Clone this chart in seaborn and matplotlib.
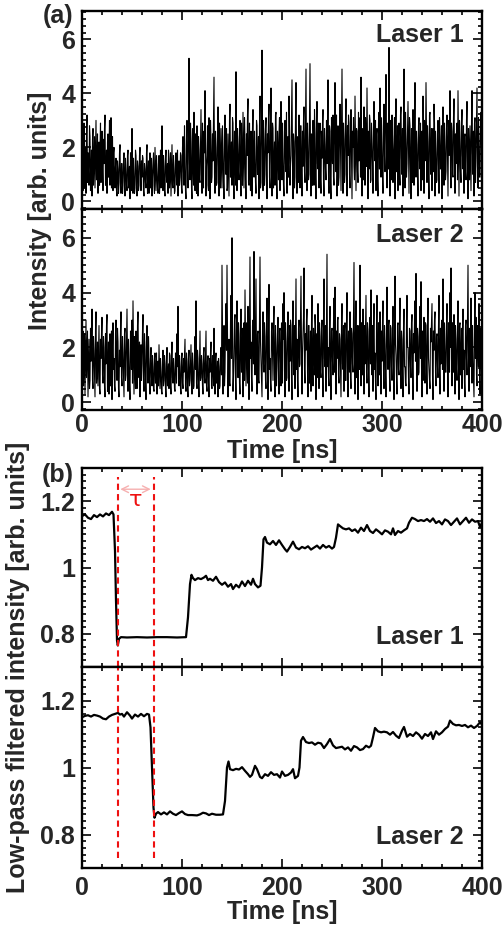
import numpy as np
import pandas as pd
import matplotlib
matplotlib.use("Agg")
import matplotlib.pyplot as plt
from matplotlib.ticker import MultipleLocator, FuncFormatter
import seaborn as sns

sns.set_theme(style="ticks")
plt.rcParams['font.family'] = ['Liberation Sans', 'DejaVu Sans']
plt.rcParams['font.weight'] = 'bold'
plt.rcParams['axes.labelweight'] = 'bold'

# ---- (a) raw intensity: samples at whole ns (0..400) ----
laser1_raw = [
    1.6, 0.4, 2.9, 1.1, 0.3, 3.2, 1.8, 0.6, 2.4, 0.9, 0.2, 2.7, 1.5, 0.5, 3.0, 1.2, 0.3, 2.2, 1.9, 0.7,
    2.6, 0.4, 1.4, 3.2, 0.8, 0.3, 2.5, 1.7, 0.6, 3.1, 1.0, 0.4, 2.0, 0.5, 1.6, 0.2, 1.2, 0.7, 2.1, 0.3,
    1.4, 0.6, 1.8, 0.2, 1.1, 0.4, 1.9, 0.8, 0.1, 1.5, 2.7, 0.3, 1.0, 0.5, 1.7, 0.2, 1.3, 0.6, 2.0, 0.4,
    0.9, 1.6, 0.2, 1.2, 0.5, 2.1, 0.7, 0.3, 1.8, 1.0, 0.2, 1.4, 0.6, 2.0, 0.4, 1.1, 0.3, 1.7, 0.8, 0.5,
    2.8, 0.4, 1.3, 0.2, 1.9, 0.7, 0.3, 1.6, 1.0, 0.2, 2.1, 0.5, 1.2, 0.4, 1.8, 0.6, 0.2, 1.5, 0.9, 1.7,
    0.3, 2.4, 0.6, 1.3, 0.1, 3.0, 0.5, 5.3, 0.8, 2.2, 0.1, 1.6, 3.3, 0.4, 1.1, 2.8, 0.2, 1.9, 0.7, 3.4,
    0.3, 1.4, 2.6, 4.1, 0.2, 1.7, 0.6, 3.1, 0.1, 2.3, 0.9, 1.5, 4.6, 0.3, 2.0, 0.7, 3.5, 0.2, 1.2, 2.7,
    0.5, 1.8, 0.1, 3.2, 1.0, 0.4, 2.5, 0.2, 3.6, 1.3, 0.6, 2.9, 0.1, 1.6, 4.8, 0.4, 2.1, 0.8, 3.0, 0.2,
    1.4, 3.3, 0.5, 2.2, 0.1, 1.7, 3.8, 0.6, 1.1, 2.6, 0.2, 3.4, 0.9, 1.5, 0.3, 2.8, 1.2, 0.1, 3.9, 0.7,
    5.6, 0.4, 2.3, 1.0, 3.1, 0.1, 1.8, 3.6, 0.5, 4.2, 0.2, 2.7, 1.3, 0.6, 3.3, 0.1, 1.9, 2.5, 0.4, 3.7,
    0.8, 1.5, 0.2, 3.0, 1.1, 0.3, 2.4, 3.9, 0.6, 1.7, 4.5, 0.1, 2.2, 0.9, 4.4, 0.3, 1.6, 3.2, 0.5, 2.8,
    0.2, 1.3, 3.5, 0.7, 4.9, 0.4, 2.0, 1.0, 5.1, 0.2, 1.8, 3.0, 0.6, 2.5, 0.1, 3.7, 1.2, 0.5, 2.9, 0.3,
    1.6, 3.4, 0.2, 2.1, 0.8, 1.4, 4.5, 0.3, 2.6, 0.1, 1.9, 3.2, 0.6, 4.4, 1.1, 0.2, 2.8, 0.9, 3.6, 0.4,
    4.9, 0.3, 2.3, 1.0, 3.8, 0.2, 1.7, 2.9, 0.5, 3.4, 0.1, 2.0, 1.3, 3.9, 0.4, 2.6, 0.7, 1.5, 3.1, 4.6,
    0.2, 1.8, 3.5, 0.6, 2.4, 4.2, 0.1, 1.2, 3.0, 0.8, 2.1, 0.3, 3.7, 1.5, 0.4, 2.7, 0.2, 3.3, 4.2, 0.9,
    2.0, 0.3, 3.6, 1.1, 4.7, 0.5, 2.5, 5.7, 0.2, 1.6, 3.2, 0.7, 2.2, 0.1, 3.8, 1.3, 0.4, 2.9, 0.6, 3.5,
    1.0, 0.2, 4.9, 0.5, 2.3, 1.4, 3.7, 0.3, 2.8, 0.1, 1.9, 3.4, 0.6, 4.4, 0.9, 2.1, 0.2, 3.1, 1.2, 0.4,
    2.6, 3.9, 0.3, 1.5, 4.4, 0.7, 2.2, 0.1, 3.3, 1.0, 0.4, 2.7, 3.6, 0.2, 1.8, 0.8, 3.0, 0.3, 2.4, 1.3,
    0.1, 3.5, 0.6, 2.0, 1.1, 3.2, 0.2, 1.7, 4.1, 0.5, 2.6, 0.9, 3.8, 0.3, 1.4, 2.9, 4.1, 0.2, 2.2, 0.7,
    3.4, 1.2, 0.3, 2.5, 0.8, 3.7, 0.1, 1.9, 2.8, 0.4, 4.1, 1.0, 0.2, 3.1, 1.6, 4.2, 0.5, 2.3, 0.9, 3.3,
    1.4,
]
# samples at half ns (0.5..399.5)
laser1_half = [
    2.2, 1.0, 0.5, 2.0, 2.5, 0.7, 1.1, 2.8, 0.4, 1.9, 2.3, 0.6, 2.4, 1.8, 0.8, 2.5, 1.4, 0.6, 2.9, 1.3,
    1.1, 2.3, 2.7, 0.6, 1.9, 2.2, 0.9, 3.0, 1.5, 0.5, 2.4, 1.8, 0.9, 1.3, 0.4, 1.5, 0.3, 1.8, 0.6, 1.4,
    0.3, 1.5, 0.7, 1.6, 0.6, 1.7, 0.5, 1.3, 1.8, 0.4, 1.1, 1.6, 0.3, 1.9, 0.6, 1.5, 0.4, 1.7, 1.0, 1.5,
    1.7, 0.4, 1.4, 0.7, 1.8, 0.3, 1.5, 1.2, 0.5, 1.6, 0.9, 1.8, 0.3, 1.2, 1.7, 0.5, 1.4, 0.3, 1.9, 1.3,
    1.0, 1.7, 0.4, 1.6, 0.9, 1.4, 1.9, 0.5, 1.8, 1.1, 0.6, 1.7, 0.3, 1.5, 0.9, 1.9, 1.3, 0.6, 1.8, 0.5,
    2.0, 1.1, 2.8, 0.4, 2.3, 1.2, 2.6, 1.4, 2.9, 0.5, 2.7, 0.6, 1.5, 2.5, 0.3, 1.7, 2.4, 0.8, 2.2, 1.0,
    2.9, 0.5, 1.8, 2.2, 1.3, 2.8, 0.4, 1.9, 3.0, 0.7, 2.5, 3.1, 1.0, 2.6, 0.6, 2.3, 1.4, 2.9, 0.5, 1.6,
    2.8, 0.7, 2.4, 1.5, 2.7, 0.5, 1.3, 3.0, 0.9, 2.2, 3.1, 0.8, 2.6, 0.6, 2.0, 2.7, 1.1, 2.4, 0.8, 2.9,
    0.6, 2.0, 3.1, 0.8, 2.5, 3.2, 0.7, 2.9, 0.4, 1.8, 2.7, 1.3, 2.6, 0.7, 3.0, 1.0, 2.4, 2.8, 0.5, 2.6,
    2.1, 3.0, 0.6, 2.7, 1.2, 2.5, 3.1, 0.9, 2.8, 1.5, 2.9, 0.5, 2.2, 3.2, 0.7, 2.6, 0.8, 3.1, 1.6, 1.2,
    2.9, 0.6, 2.6, 1.4, 3.3, 2.2, 0.9, 2.7, 1.3, 3.0, 1.6, 2.5, 0.5, 3.1, 1.8, 2.4, 0.7, 2.0, 2.8, 1.1,
    2.6, 3.0, 1.1, 2.8, 1.5, 2.9, 0.8, 3.2, 1.7, 2.5, 0.6, 2.2, 3.4, 0.9, 2.7, 1.4, 2.9, 2.3, 0.8, 2.6,
    2.9, 0.8, 2.7, 1.2, 3.0, 2.6, 1.0, 2.8, 0.7, 3.1, 1.4, 0.9, 2.6, 2.2, 3.2, 1.3, 0.6, 2.5, 1.8, 2.8,
    2.1, 2.9, 0.7, 3.0, 1.6, 2.8, 3.2, 1.0, 2.4, 1.9, 2.6, 3.1, 0.8, 2.3, 2.7, 1.1, 3.3, 2.9, 0.9, 2.1,
    2.7, 0.8, 2.2, 3.1, 1.3, 2.0, 2.6, 3.2, 0.7, 2.9, 1.4, 2.7, 1.9, 3.0, 2.5, 0.8, 2.9, 1.2, 2.2, 3.1,
    0.9, 2.8, 1.7, 3.3, 2.3, 2.9, 1.2, 2.6, 3.0, 0.8, 2.4, 1.6, 3.1, 2.7, 1.1, 2.8, 2.4, 1.0, 3.2, 1.6,
    2.7, 2.9, 1.4, 3.3, 0.9, 2.5, 2.0, 3.1, 1.2, 2.7, 0.7, 2.2, 3.0, 1.9, 2.6, 1.0, 2.8, 1.5, 2.9, 2.2,
    0.8, 2.6, 3.0, 1.9, 2.5, 2.8, 0.9, 3.2, 1.5, 2.7, 2.3, 1.1, 2.9, 2.6, 0.7, 2.5, 1.4, 3.1, 1.2, 2.8,
    2.6, 1.4, 2.9, 0.8, 2.7, 1.7, 3.0, 2.4, 1.2, 2.9, 1.0, 3.1, 1.8, 2.5, 2.6, 0.8, 2.3, 3.0, 1.1, 2.9,
    1.7, 2.8, 2.4, 1.1, 3.0, 1.6, 2.7, 0.8, 1.5, 2.9, 1.8, 2.6, 2.9, 0.7, 2.8, 1.3, 3.1, 0.9, 2.6, 2.1,
]
laser2_raw = [
    0.4, 2.6, 1.2, 0.3, 3.0, 1.7, 0.2, 2.3, 0.8, 1.5, 3.4, 0.5, 1.9, 0.2, 3.3, 1.0, 0.6, 2.8, 0.3, 1.6,
    3.1, 0.7, 2.0, 0.2, 1.4, 3.2, 0.9, 0.3, 2.5, 1.1, 0.1, 2.9, 1.6, 0.4, 3.0, 0.8, 2.2, 0.2, 1.3, 3.3,
    0.6, 1.8, 0.2, 2.7, 1.0, 3.4, 0.4, 1.5, 0.1, 2.4, 3.0, 3.7, 0.3, 1.2, 2.6, 0.5, 3.3, 0.9, 0.2, 2.1,
    1.4, 3.2, 0.4, 1.9, 0.1, 2.8, 0.7, 1.6, 0.3, 2.0, 0.6, 1.3, 0.4, 1.8, 0.9, 0.3, 1.5, 2.1, 0.5, 1.1,
    0.3, 1.9, 0.8, 1.4, 0.2, 2.0, 1.0, 0.5, 1.7, 0.3, 2.2, 0.7, 1.2, 0.4, 1.6, 2.5, 3.5, 0.6, 1.3, 0.3,
    1.8, 0.5, 1.1, 2.3, 0.4, 1.5, 0.2, 1.9, 0.8, 2.1, 0.3, 1.3, 0.6, 2.4, 3.7, 0.5, 1.6, 0.2, 2.6, 0.9,
    1.4, 0.3, 2.0, 0.7, 2.6, 0.4, 1.7, 0.2, 1.1, 2.2, 0.5, 1.5, 2.7, 0.3, 1.8, 0.8, 0.2, 1.3, 0.6, 2.0,
    5.0, 0.3, 2.8, 1.1, 3.6, 5.0, 0.2, 2.3, 0.6, 3.9, 6.0, 0.4, 1.7, 3.2, 0.1, 3.7, 0.9, 2.5, 0.3, 3.4,
    1.2, 0.2, 2.9, 4.1, 0.6, 1.8, 3.5, 0.1, 5.3, 2.2, 0.4, 3.0, 5.5, 1.0, 4.5, 0.3, 2.6, 0.7, 5.3, 1.5,
    0.2, 3.3, 1.1, 2.4, 0.5, 3.8, 0.1, 4.3, 1.6, 0.4, 2.9, 0.8, 3.5, 0.2, 2.0, 1.3, 3.1, 0.3, 2.7, 0.6,
    1.8, 3.6, 4.0, 0.2, 2.2, 0.9, 3.3, 0.4, 1.5, 2.8, 0.1, 3.7, 1.0, 0.5, 4.5, 2.3, 0.2, 3.0, 1.4, 4.6,
    0.3, 2.5, 4.9, 0.7, 1.9, 3.4, 0.2, 2.8, 1.1, 0.4, 3.9, 0.6, 2.1, 3.2, 0.1, 1.7, 3.6, 0.5, 2.4, 0.9,
    3.0, 0.2, 4.5, 1.3, 0.4, 5.4, 2.0, 0.6, 3.5, 0.1, 2.7, 1.0, 3.8, 4.2, 0.3, 1.6, 3.1, 0.7, 2.3, 0.2,
    3.6, 1.2, 0.4, 2.9, 0.8, 4.0, 0.2, 1.9, 3.3, 0.5, 2.5, 1.1, 5.1, 0.3, 3.7, 1.6, 0.1, 2.8, 5.0, 0.6,
    2.2, 3.4, 0.3, 1.4, 3.9, 0.7, 2.6, 0.2, 3.1, 4.1, 1.0, 0.4, 3.6, 1.8, 0.1, 3.9, 0.6, 2.4, 3.3, 0.3,
    1.5, 3.7, 0.5, 2.1, 0.2, 4.2, 1.2, 3.0, 0.4, 2.7, 0.8, 3.5, 0.1, 4.6, 1.7, 0.3, 2.9, 1.0, 3.8, 0.5,
    2.3, 0.2, 3.4, 1.3, 0.6, 3.9, 2.0, 0.3, 2.6, 0.9, 3.2, 0.1, 1.8, 3.7, 4.7, 0.4, 2.4, 1.1, 3.5, 4.4,
    0.2, 1.6, 3.1, 0.7, 2.8, 0.3, 3.8, 1.2, 0.5, 2.2, 3.6, 0.1, 1.9, 3.3, 0.6, 2.5, 0.9, 3.9, 0.3, 1.4,
    3.0, 4.5, 0.4, 2.0, 1.1, 3.6, 0.2, 2.7, 4.0, 4.9, 0.6, 1.7, 3.2, 0.3, 2.3, 0.8, 3.7, 0.1, 2.9, 1.3,
    0.5, 3.4, 1.9, 0.2, 3.0, 1.0, 5.0, 0.4, 2.6, 3.8, 0.7, 1.5, 0.2, 4.0, 3.1, 0.6, 2.2, 3.6, 0.3, 1.8,
    2.4,
]
laser2_half = [
    1.9, 0.6, 2.5, 1.8, 0.9, 2.6, 1.3, 0.5, 2.7, 2.1, 0.8, 2.4, 1.0, 2.6, 0.7, 2.2, 1.8, 0.5, 2.3, 2.5,
    1.0, 2.4, 0.6, 2.5, 2.8, 0.4, 2.2, 1.7, 0.6, 2.6, 2.0, 1.2, 0.6, 2.5, 1.4, 2.7, 0.5, 1.9, 2.6, 0.9,
    2.4, 1.0, 2.5, 0.8, 2.2, 1.6, 2.3, 0.6, 2.6, 1.2, 0.7, 2.0, 2.4, 0.5, 1.9, 2.8, 1.3, 2.2, 1.7, 0.8,
    2.6, 0.9, 2.5, 0.7, 2.2, 1.3, 2.4, 0.8, 1.6, 0.9, 1.7, 0.5, 1.6, 0.7, 1.8, 1.4, 0.6, 1.2, 1.6, 0.4,
    1.5, 0.6, 1.7, 0.5, 1.5, 0.6, 1.4, 1.8, 0.6, 1.7, 0.9, 1.6, 0.5, 1.8, 0.7, 1.3, 0.8, 1.7, 0.5, 1.6,
    0.7, 1.6, 1.7, 0.6, 1.8, 0.5, 1.6, 0.6, 1.5, 0.7, 1.8, 0.5, 1.7, 1.2, 0.7, 1.9, 0.6, 1.5, 0.8, 1.7,
    0.6, 1.8, 0.9, 1.7, 0.6, 1.5, 0.7, 1.6, 1.8, 0.6, 1.7, 0.6, 1.3, 1.6, 0.7, 1.5, 1.6, 0.5, 1.7, 1.0,
    2.5, 1.4, 0.6, 2.8, 1.9, 2.4, 1.5, 0.7, 2.9, 1.6, 2.8, 0.9, 3.0, 0.8, 2.6, 1.6, 2.9, 0.7, 2.4, 1.1,
    2.7, 2.5, 0.8, 2.2, 2.9, 0.7, 2.4, 2.6, 1.6, 0.9, 2.8, 1.4, 2.1, 2.9, 1.3, 2.5, 0.8, 2.9, 2.2, 0.7,
    2.6, 1.4, 2.9, 0.8, 2.7, 1.5, 2.8, 1.2, 0.7, 2.6, 1.8, 2.9, 1.0, 2.8, 0.6, 2.5, 1.2, 2.6, 1.5, 2.9,
    0.7, 2.3, 1.2, 2.9, 0.8, 2.6, 1.6, 2.8, 3.0, 0.9, 2.6, 1.5, 2.8, 2.5, 1.2, 0.8, 2.7, 1.3, 2.9, 2.0,
    1.8, 3.1, 1.2, 2.5, 3.0, 1.1, 2.8, 0.7, 2.6, 2.9, 1.3, 2.7, 1.0, 2.8, 2.5, 0.9, 1.8, 2.9, 1.1, 2.7,
    1.2, 2.9, 1.6, 2.8, 3.1, 1.3, 0.9, 2.7, 1.2, 2.6, 1.5, 2.9, 1.1, 1.9, 2.6, 3.0, 1.0, 2.5, 1.3, 2.8,
    1.4, 2.8, 2.6, 0.8, 2.9, 1.3, 2.6, 1.1, 0.9, 2.7, 1.4, 3.0, 1.9, 2.5, 0.9, 2.8, 2.6, 1.2, 1.7, 2.9,
    1.0, 1.6, 2.8, 2.6, 1.1, 2.9, 1.0, 2.7, 1.4, 1.9, 2.8, 2.7, 1.2, 0.7, 2.8, 1.5, 2.9, 1.0, 1.4, 2.6,
    2.9, 1.2, 2.8, 1.0, 2.7, 2.0, 2.8, 0.9, 2.8, 1.3, 2.6, 1.4, 2.7, 2.1, 0.9, 2.8, 1.2, 2.9, 1.4, 2.6,
    1.1, 2.7, 1.3, 0.7, 2.9, 2.0, 0.9, 2.7, 1.3, 2.9, 1.2, 2.5, 3.0, 1.5, 2.1, 2.7, 1.0, 2.8, 1.6, 1.3,
    2.6, 0.8, 1.4, 2.9, 1.2, 2.8, 1.6, 0.8, 2.7, 2.9, 1.0, 2.6, 3.0, 1.1, 2.4, 1.3, 2.8, 1.2, 2.7, 2.9,
    1.2, 1.8, 2.9, 1.1, 2.8, 1.4, 2.9, 1.1, 2.0, 1.6, 2.9, 1.1, 1.9, 2.8, 1.2, 2.6, 1.4, 2.8, 1.0, 2.7,
    2.6, 1.2, 0.7, 2.8, 1.6, 3.0, 1.8, 2.7, 1.3, 1.5, 2.8, 0.9, 2.9, 1.6, 1.0, 2.8, 1.3, 1.1, 2.7, 1.0,
]

# ---- (b) low-pass filtered intensity ----
t_filt1 = [0, 3, 6, 9, 12, 15, 18, 21, 24, 27, 30, 31.5, 33, 34, 35, 35.8, 37, 39,
           45, 55, 65, 75, 85, 95, 104, 106, 108, 109.5, 111, 113, 116, 119, 122, 124,
           126, 128, 131, 134, 137, 140, 143, 146, 149, 151, 154, 157, 160, 163, 166,
           169, 171, 173, 176, 178.5, 180, 181.5, 183, 185, 188, 191, 194, 197, 200,
           203, 205, 208, 211, 214, 217, 220, 223, 226, 229, 232, 235, 238, 241, 244,
           247, 250, 252, 254, 256, 258, 261, 264, 267, 270, 273, 276, 279, 282, 285,
           288, 291, 294, 297, 300, 303, 306, 309, 311, 313, 316, 319, 322, 325, 327,
           330, 333, 336, 339, 342, 345, 348, 351, 354, 357, 360, 363, 366, 369, 372,
           375, 378, 381, 384, 387, 390, 393, 396, 398, 400]
y_filt1 = [1.155, 1.160, 1.150, 1.146, 1.158, 1.152, 1.160, 1.154, 1.163, 1.158, 1.168, 1.160,
           1.050, 0.900, 0.780, 0.765, 0.785, 0.790,
           0.789, 0.790, 0.789, 0.790, 0.790, 0.789, 0.790, 0.850, 0.950, 0.978, 0.968, 0.962,
           0.968, 0.965, 0.970, 0.975, 0.962, 0.966, 0.960, 0.972, 0.956, 0.948, 0.955, 0.942,
           0.950, 0.935, 0.948, 0.940, 0.958, 0.944, 0.960, 0.948, 0.966, 0.950, 0.940, 0.945,
           1.000, 1.085, 1.092, 1.075, 1.070, 1.080, 1.068, 1.082, 1.068, 1.055, 1.048, 1.062,
           1.078, 1.060, 1.055, 1.062, 1.058, 1.064, 1.054, 1.060, 1.066, 1.057, 1.068, 1.060,
           1.065, 1.057, 1.062, 1.090, 1.130, 1.125, 1.118, 1.115, 1.118, 1.110, 1.115, 1.105,
           1.120, 1.110, 1.128, 1.110, 1.104, 1.115, 1.108, 1.100, 1.112, 1.108, 1.100, 1.118,
           1.098, 1.110, 1.105, 1.112, 1.118, 1.135, 1.150, 1.146, 1.140, 1.143, 1.140, 1.146,
           1.138, 1.148, 1.134, 1.140, 1.130, 1.145, 1.140, 1.128, 1.138, 1.148, 1.130, 1.140,
           1.150, 1.135, 1.145, 1.138, 1.140, 1.122, 1.135]

t_filt2 = [0, 3, 6, 9, 12, 15, 18, 21, 24, 27, 30, 33, 36, 38, 40, 42, 45, 48, 50, 53, 56,
           59, 62, 65, 67, 68.5, 70, 71.5, 72.5, 74, 76, 79, 82, 85, 88, 91, 94, 97, 100,
           103, 106, 110, 115, 118, 121, 124, 127, 130, 134, 138, 141, 143, 145, 146.5,
           148, 151, 154, 157, 160, 163, 166, 168, 170, 173, 175, 178, 180, 183, 186, 189,
           192, 195, 198, 200, 203, 206, 209, 211, 213, 216, 217.5, 219, 221, 224, 227,
           230, 233, 236, 239, 242, 245, 248, 251, 254, 257, 260, 263, 266, 269, 272, 275,
           278, 281, 284, 287, 289, 291, 293, 296, 299, 302, 305, 308, 311, 314, 317, 320,
           322, 325, 328, 331, 334, 337, 340, 343, 346, 349, 351, 354, 357, 360, 363, 366,
           368, 371, 374, 377, 380, 383, 386, 389, 392, 395, 398, 400]
y_filt2 = [1.150, 1.154, 1.156, 1.152, 1.157, 1.155, 1.152, 1.146, 1.144, 1.152, 1.157, 1.160,
           1.163, 1.158, 1.160, 1.152, 1.165, 1.155, 1.146, 1.158, 1.152, 1.160, 1.153, 1.160,
           1.158, 1.120, 1.000, 0.880, 0.850, 0.862, 0.867, 0.860, 0.866, 0.860, 0.869, 0.862,
           0.858, 0.864, 0.869, 0.861, 0.858, 0.858, 0.857, 0.860, 0.865, 0.863, 0.858, 0.862,
           0.859, 0.859, 0.860, 0.900, 1.000, 1.018, 0.995, 0.992, 0.996, 0.994, 1.001, 0.990,
           0.980, 0.972, 0.978, 1.005, 0.995, 0.972, 0.968, 0.980, 0.975, 0.986, 0.978, 0.980,
           0.970, 0.988, 0.975, 0.978, 0.985, 0.995, 0.968, 0.975, 1.000, 1.080, 1.091, 1.076,
           1.073, 1.075, 1.068, 1.074, 1.072, 1.058, 1.070, 1.085, 1.066, 1.058, 1.060, 1.062,
           1.054, 1.060, 1.050, 1.064, 1.060, 1.052, 1.055, 1.065, 1.060, 1.065, 1.090, 1.118,
           1.108, 1.105, 1.107, 1.105, 1.098, 1.106, 1.095, 1.088, 1.110, 1.121, 1.092, 1.100,
           1.094, 1.105, 1.098, 1.086, 1.100, 1.094, 1.105, 1.085, 1.108, 1.098, 1.105, 1.115,
           1.122, 1.140, 1.130, 1.126, 1.127, 1.124, 1.127, 1.120, 1.125, 1.118, 1.124, 1.135,
           1.128]

tau_start, tau_end = 35.5, 71.5  # ns, dashed markers


def merge_samples(whole, half):
    # interleave whole-ns and half-ns samples into one 0.5 ns series
    vals = []
    for i, v in enumerate(whole):
        vals.append(v)
        if i < len(half):
            vals.append(half[i])
    return pd.DataFrame({"t": np.arange(len(vals)) * 0.5, "I": vals})


raw1 = merge_samples(laser1_raw, laser1_half)
raw2 = merge_samples(laser2_raw, laser2_half)

fig = plt.figure(figsize=(5.03, 9.33), dpi=100)
W, H = 503, 933
def box(x0, x1, ytop, ybot):
    return [x0 / W, 1 - ybot / H, (x1 - x0) / W, (ybot - ytop) / H]

ax1 = fig.add_axes(box(82, 482, 11, 209))
ax2 = fig.add_axes(box(82, 482, 209, 410))
ax3 = fig.add_axes(box(82, 482, 468, 667))
ax4 = fig.add_axes(box(82, 482, 667, 868))

fs = 18
sns.lineplot(data=raw1, x="t", y="I", ax=ax1, color="black", lw=0.8)
sns.lineplot(data=raw2, x="t", y="I", ax=ax2, color="black", lw=0.8)
sns.lineplot(x=t_filt1, y=y_filt1, ax=ax3, color="black", lw=1.6)
sns.lineplot(x=t_filt2, y=y_filt2, ax=ax4, color="black", lw=1.6)

fmt = FuncFormatter(lambda v, p: f"{v:g}")
for ax in (ax1, ax2, ax3, ax4):
    ax.set_xlim(0, 400)
    ax.xaxis.set_major_locator(MultipleLocator(100))
    ax.xaxis.set_minor_locator(MultipleLocator(20))
    ax.tick_params(which="both", direction="in", top=True, right=True,
                   labelsize=fs, width=1.4)
    ax.tick_params(which="major", length=6.5)
    ax.tick_params(which="minor", length=3.2)
    ax.tick_params(axis="y", pad=5)
    ax.set_xlabel("")
    ax.set_ylabel("")
    for s in ax.spines.values():
        s.set_linewidth(1.7)
        s.set_color("black")
    for lab in ax.get_xticklabels() + ax.get_yticklabels():
        lab.set_fontweight("bold")

for ax in (ax1, ax2):
    ax.set_ylim(-0.28, 7.05)
    ax.yaxis.set_major_locator(MultipleLocator(2))
    ax.yaxis.set_minor_locator(MultipleLocator(0.25))
for ax in (ax3, ax4):
    ax.set_ylim(0.7, 1.3)
    ax.yaxis.set_major_locator(MultipleLocator(0.2))
    ax.yaxis.set_minor_locator(MultipleLocator(0.02))
    ax.yaxis.set_major_formatter(fmt)
ax1.tick_params(labelbottom=False)
ax3.tick_params(labelbottom=False)
ax2.tick_params(axis="x", pad=2.5)
ax4.tick_params(axis="x", pad=5.5)

ax1.text(0.955, 0.88, "Laser 1", transform=ax1.transAxes, ha="right", va="center", fontsize=fs, fontweight="bold")
ax2.text(0.955, 0.87, "Laser 2", transform=ax2.transAxes, ha="right", va="center", fontsize=fs, fontweight="bold")
ax3.text(0.955, 0.15, "Laser 1", transform=ax3.transAxes, ha="right", va="center", fontsize=fs, fontweight="bold")
ax4.text(0.955, 0.155, "Laser 2", transform=ax4.transAxes, ha="right", va="center", fontsize=fs, fontweight="bold")

# dashed markers across panel (b)
for x in (tau_start, tau_end):
    ax3.axvline(x, ymin=0, ymax=0.955, color="#ee1111", ls=(0, (3, 2)), lw=1.5)
    ax4.axvline(x, ymin=0.05, ymax=1, color="#ee1111", ls=(0, (3, 2)), lw=1.5)
ax3.annotate("", xy=(tau_start, 1.236), xytext=(tau_end, 1.236),
             arrowprops=dict(arrowstyle="<->", color="#f6b0b0", lw=1.0))
ax3.text((tau_start + tau_end) / 2, 1.203, "τ", color="#ee1111", fontsize=16,
         ha="center", va="center", family=["DejaVu Sans"], fontweight="normal")

ax2.set_xlabel("Time [ns]", fontsize=fs, fontweight="bold", labelpad=1)
ax4.set_xlabel("Time [ns]", fontsize=fs, fontweight="bold", labelpad=0)

fig.text(40 / W, 1 - 211 / H, "Intensity [arb. units]", rotation=90, ha="center", va="center",
         fontsize=fs, fontweight="bold")
fig.text(18 / W, 1 - 667 / H, "Low-pass filtered intensity [arb. units]", rotation=90,
         ha="center", va="center", fontsize=fs, fontweight="bold")
fig.text(58 / W, 1 - 16 / H, "(a)", ha="center", va="center", fontsize=fs, fontweight="bold")
fig.text(58 / W, 1 - 475 / H, "(b)", ha="center", va="center", fontsize=fs, fontweight="bold")

fig.savefig("out.png", dpi=100)
